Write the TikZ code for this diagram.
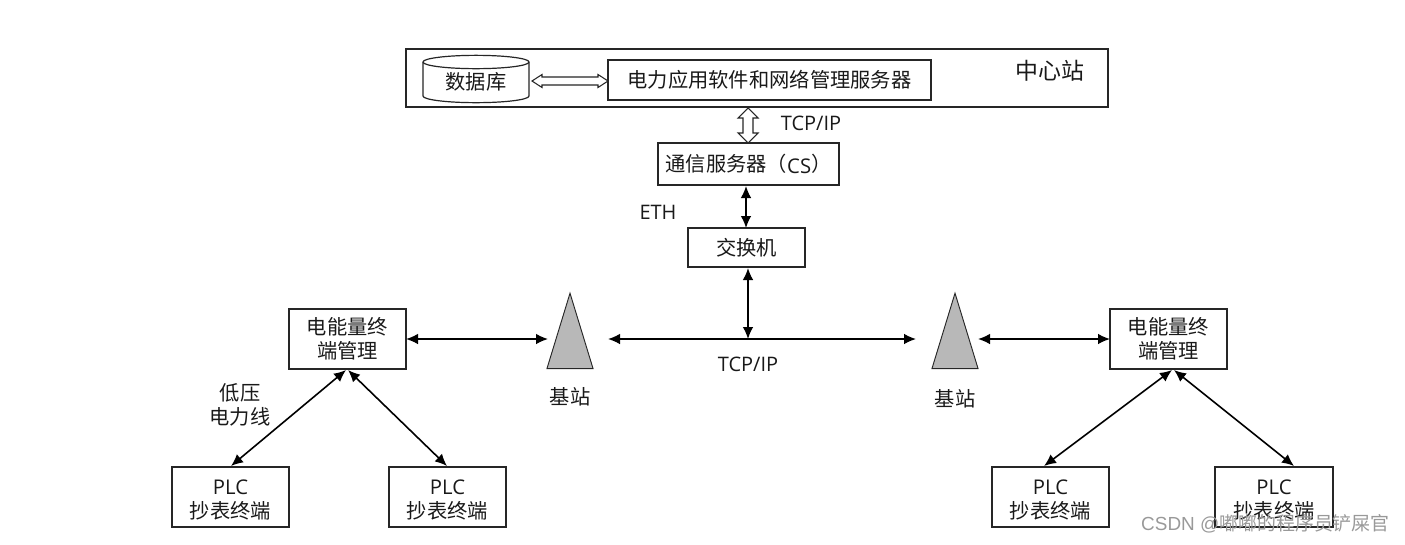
\documentclass[tikz,border=0pt]{standalone}
\usepackage{fontspec}
\setmainfont{Open Sans}
\newfontfamily\cjk{Noto Sans CJK SC}
\usetikzlibrary{arrows.meta,shapes.geometric,calc}
\tikzset{
  x=0.75pt,y=-0.75pt,
  lbl/.style={inner sep=0pt,font=\fontsize{15.2}{18.5}\selectfont\cjk,align=center,text=black!90},
  lat/.style={inner sep=0pt,font=\fontsize{15}{18}\selectfont,align=center,text=black!90},
  boxn/.style={draw=black!85,line width=1.15pt,fill=white,inner sep=0pt,align=center,
     font=\fontsize{15.2}{18}\selectfont\cjk,text=black!90},
  sized/.style 2 args={minimum width=#1*0.75pt,minimum height=#2*0.75pt},
  tower/.style={draw=black!85,line width=.7pt,fill=black!28,isosceles triangle,isosceles triangle apex angle=34,
     shape border rotate=90,inner sep=0pt,minimum height=56.5pt,minimum width=34pt,anchor=south},
  link/.style={line width=1.2pt,draw=black,{Latex[length=9pt,width=8pt]}-{Latex[length=9pt,width=8pt]}},
  hollow/.style={draw=black!85,line width=.8pt,fill=white,line join=miter},
  wm/.style={inner sep=0pt,font=\fontsize{14.2}{16}\selectfont\cjk,text=black!40}
}
\newcommand{\plctext}{\rule{0pt}{16pt}{\fontspec{Open Sans}PLC}\\抄表终端}
\begin{document}
\begin{tikzpicture}
\useasboundingbox (0,0) rectangle (1405,544);
\node[boxn,sized={702}{58}] (center) at (757,78) {};
\node[lbl,font=\fontsize{17.2}{18}\selectfont\cjk] (centerl) at (1050,71) {中心站};
\node[sized={106}{47},inner sep=0pt] (db) at (476,78.5) {};
\draw[draw=black!85,line width=.9pt,fill=white] (423,62)
  arc[start angle=180,end angle=0,x radius=39.75pt,y radius=5pt]
  -- (529,96) arc[start angle=0,end angle=-180,x radius=39.75pt,y radius=5pt] -- cycle;
\draw[draw=black!85,line width=.9pt] (423,62)
  arc[start angle=180,end angle=360,x radius=39.75pt,y radius=5pt];
\node[lbl] (dbl) at (476,82) {数据库};
\node[boxn,sized={323}{40}] (srv) at (769.5,80) {电力应用软件和网络管理服务器};
\node[boxn,sized={181}{42}] (cs) at (748.5,164) {通信服务器（\raisebox{-1.5pt}{\fontspec{Open Sans}CS}）};
\node[boxn,sized={117}{39}] (sw) at (746.5,247.5) {交换机};
\node[boxn,sized={117}{60}] (mL) at (347.5,339) {电能量终\\端管理};
\node[boxn,sized={117}{60}] (mR) at (1168.5,339) {电能量终\\端管理};
\node[boxn,sized={117}{60}] (p1) at (230.5,497) {\plctext};
\node[boxn,sized={117}{60}] (p2) at (447.5,497) {\plctext};
\node[boxn,sized={117}{60}] (p3) at (1050.5,497) {\plctext};
\node[boxn,sized={118}{60}] (p4) at (1274,497) {\plctext};
\node[tower] (tL) at (570,369) {};
\node[tower] (tR) at (955,369) {};
\node[lbl] (tLl) at (570,397) {基站};
\node[lbl] (tRl) at (955,399) {基站};
\node[lat] (l1) at (811,123) {TCP/IP};
\node[lat] (l2) at (658,212) {ETH};
\node[lat] (l3) at (748,364) {TCP/IP};
\node[lbl] (l4) at (240,405) {低压\\电力线};
\coordinate (dbE) at (532,81);
\coordinate (srvW) at (608,81);
\coordinate (cTop) at (748,108);
\coordinate (csTop) at (748,143);
\coordinate (csB) at (746,186);
\coordinate (swT) at (746,228);
\coordinate (swB) at (748,268);
\coordinate (busM) at (748,339);
\coordinate (busL) at (608,339);
\coordinate (busR) at (916,339);
\coordinate (mLE) at (406,339);
\coordinate (tLW) at (548,339);
\coordinate (tRE) at (978,339);
\coordinate (mRW) at (1110,339);
\coordinate (mLa) at (346,370);
\coordinate (mLb) at (348,370);
\coordinate (mRa) at (1172,370);
\coordinate (mRb) at (1174,370);
\coordinate (p1T) at (231,466);
\coordinate (p2T) at (447,466);
\coordinate (p3T) at (1044,466);
\coordinate (p4T) at (1294,466);
\draw[hollow] (dbE) -- ($(dbE)+(10,-6.5)$) -- ($(dbE)+(10,-4)$) -- ($(srvW)+(-10,-4)$) -- ($(srvW)+(-10,-6.5)$)
  -- (srvW) -- ($(srvW)+(-10,6.5)$) -- ($(srvW)+(-10,4)$) -- ($(dbE)+(10,4)$) -- ($(dbE)+(10,6.5)$) -- cycle;
\draw[hollow] (cTop) -- ($(cTop)+(10,10)$) -- ($(cTop)+(5,10)$) -- ($(csTop)+(5,-10)$) -- ($(csTop)+(10,-10)$)
  -- (csTop) -- ($(csTop)+(-10,-10)$) -- ($(csTop)+(-5,-10)$) -- ($(cTop)+(-5,10)$) -- ($(cTop)+(-10,10)$) -- cycle;
\draw[link] (csB) -- (swT);
\draw[link] (busM) -- (swB);
\draw[link] (busL) -- (busR);
\draw[link] (mLE) -- (tLW);
\draw[link] (tRE) -- (mRW);
\draw[link] (mLa) -- (p1T);
\draw[link] (mLb) -- (p2T);
\draw[link] (mRa) -- (p3T);
\draw[link] (mRb) -- (p4T);
\node[wm,anchor=east] (wmk) at (1390,524) {{\fontspec{Liberation Sans}CSDN @}嘟嘟的程序员铲屎官};
\end{tikzpicture}
\end{document}
